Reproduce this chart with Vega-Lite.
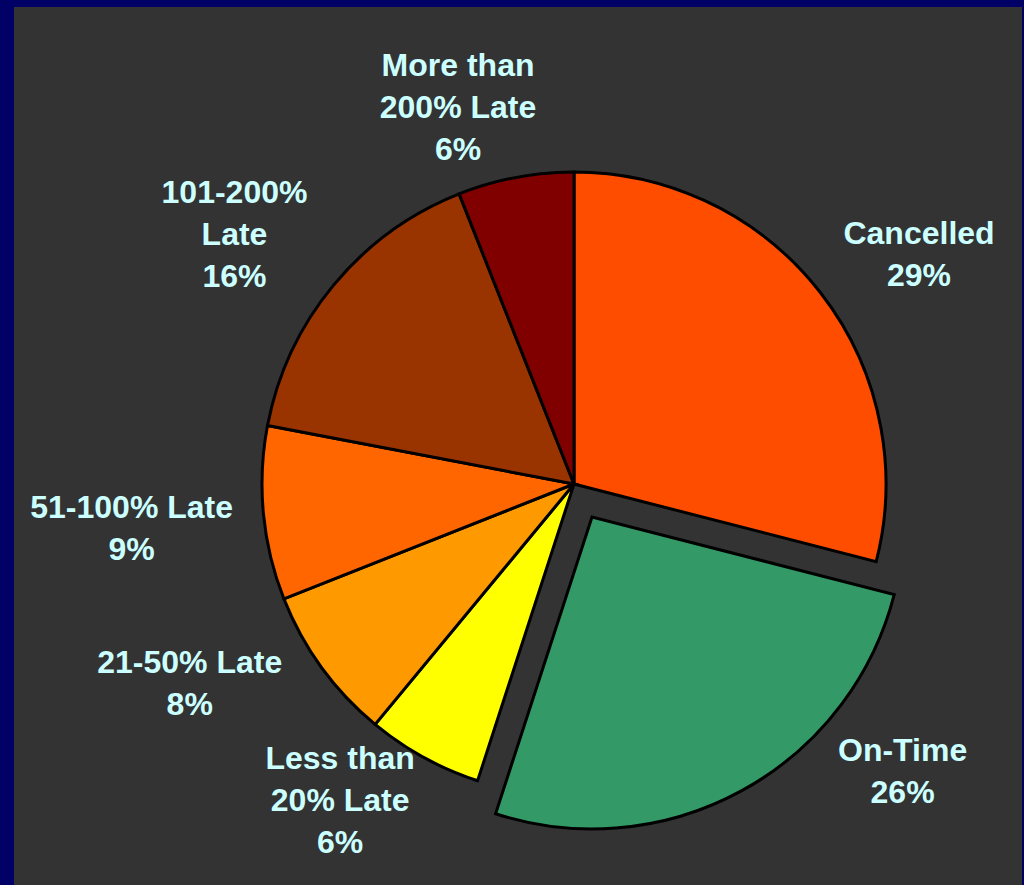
{
  "$schema": "https://vega.github.io/schema/vega-lite/v6.json",
  "width": 1008,
  "height": 878,
  "autosize": "none",
  "padding": {"left": 14, "top": 7, "right": 2, "bottom": 0},
  "background": "#000066",
  "view": {"fill": "#333333", "stroke": null},
  "config": {
    "text": {"font": "Liberation Sans", "fontWeight": "bold", "fontSize": 32, "lineHeight": 42, "lineBreak": "\n", "color": "#CCFFFF", "align": "center", "baseline": "middle"}
  },
  "data": {
    "values": [
      {"order": 1, "category": "Cancelled", "value": 29, "label": "Cancelled\n29%"},
      {"order": 2, "category": "On-Time", "value": 26, "label": "On-Time\n26%"},
      {"order": 3, "category": "Less than 20% Late", "value": 6, "label": "Less than\n20% Late\n6%"},
      {"order": 4, "category": "21-50% Late", "value": 8, "label": "21-50% Late\n8%"},
      {"order": 5, "category": "51-100% Late", "value": 9, "label": "51-100% Late\n9%"},
      {"order": 6, "category": "101-200% Late", "value": 16, "label": "101-200%\nLate\n16%"},
      {"order": 7, "category": "More than 200% Late", "value": 6, "label": "More than\n200% Late\n6%"}
    ]
  },
  "transform": [
    {"stack": "value", "groupby": [], "sort": [{"field": "order"}], "as": ["v0", "v1"]},
    {"calculate": "(datum.v0 + datum.v1) / 2", "as": "mid"}
  ],
  "encoding": {
    "theta": {"field": "mid", "type": "quantitative", "stack": null, "scale": {"domain": [0, 100], "range": [0, 6.283185307179586]}},
    "text": {"field": "label"}
  },
  "layer": [
    {
      "transform": [{"filter": "datum.category != 'On-Time'"}],
      "mark": {"type": "arc", "outerRadius": 312, "stroke": "#000000", "strokeWidth": 3, "xOffset": 56, "yOffset": 38},
      "encoding": {
        "theta": {"field": "v0", "type": "quantitative", "stack": null},
        "theta2": {"field": "v1"},
        "text": null,
        "color": {
          "field": "category", "type": "nominal", "legend": null,
          "scale": {
            "domain": ["Cancelled", "On-Time", "Less than 20% Late", "21-50% Late", "51-100% Late", "101-200% Late", "More than 200% Late"],
            "range": ["#FF4D00", "#339966", "#FFFF00", "#FF9900", "#FF6600", "#993300", "#800000"]
          }
        }
      }
    },
    {
      "transform": [{"filter": "datum.category == 'On-Time'"}],
      "mark": {"type": "arc", "outerRadius": 312, "stroke": "#000000", "strokeWidth": 3, "xOffset": 74, "yOffset": 71},
      "encoding": {
        "theta": {"field": "v0", "type": "quantitative", "stack": null},
        "theta2": {"field": "v1"},
        "text": null,
        "color": {"field": "category", "type": "nominal", "legend": null}
      }
    },
    {
      "transform": [{"filter": "datum.category == 'Cancelled'"}],
      "mark": {"type": "text", "radius": 426, "thetaOffset": 0.033, "xOffset": 56, "yOffset": 38}
    },
    {
      "transform": [{"filter": "datum.category == 'On-Time'"}],
      "mark": {"type": "text", "radius": 389, "thetaOffset": -0.422, "xOffset": 74, "yOffset": 71}
    },
    {
      "transform": [{"filter": "datum.category == 'Less than 20% Late'"}],
      "mark": {"type": "text", "radius": 361, "thetaOffset": 0.202, "xOffset": 56, "yOffset": 38}
    },
    {
      "transform": [{"filter": "datum.category == '21-50% Late'"}],
      "mark": {"type": "text", "radius": 424, "thetaOffset": 0.192, "xOffset": 56, "yOffset": 38}
    },
    {
      "transform": [{"filter": "datum.category == '51-100% Late'"}],
      "mark": {"type": "text", "radius": 443, "thetaOffset": 0.04, "xOffset": 56, "yOffset": 38}
    },
    {
      "transform": [{"filter": "datum.category == '101-200% Late'"}],
      "mark": {"type": "text", "radius": 447, "thetaOffset": 0.017, "xOffset": 56, "yOffset": 38}
    },
    {
      "transform": [{"filter": "datum.category == 'More than 200% Late'"}],
      "mark": {"type": "text", "radius": 434, "thetaOffset": -0.082, "xOffset": 56, "yOffset": 38}
    }
  ]
}
